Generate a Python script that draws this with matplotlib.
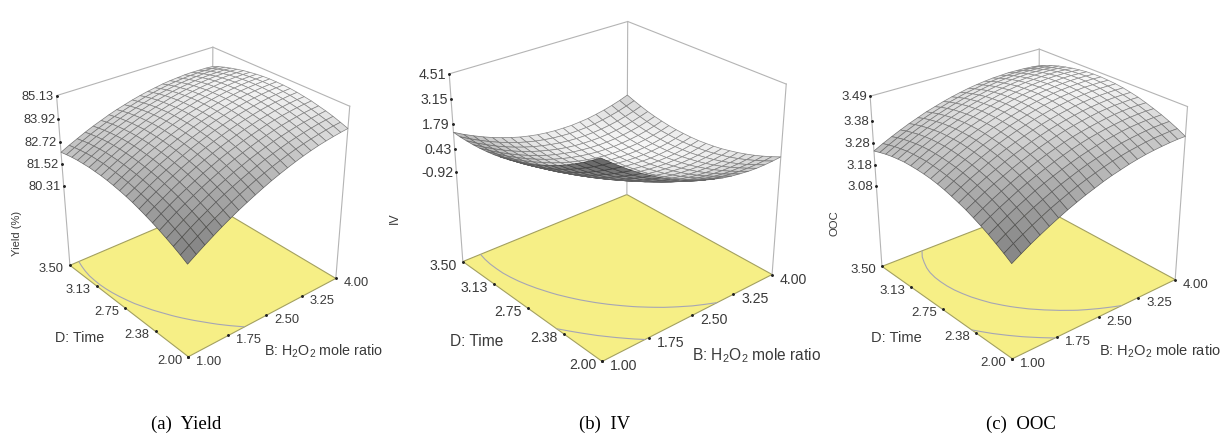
#!/usr/bin/env python3
"""Three response surfaces over a yellow contour floor."""

import numpy as np
import matplotlib
matplotlib.use("Agg")
import matplotlib.pyplot as plt
from mpl_toolkits.mplot3d import proj3d

W, H = 1225, 447

B_ticks = [1.00, 1.75, 2.50, 3.25, 4.00]
B_labels = ["1.00", "1.75", "2.50", "3.25", "4.00"]
D_ticks = [2.00, 2.375, 2.75, 3.125, 3.50]
D_labels = ["2.00", "2.38", "2.75", "3.13", "3.50"]

# rows run along D (2.00 to 3.50), columns along B (1.00 to 4.00)
yield_z = [
    [80.60, 80.89, 81.17, 81.44, 81.70, 81.94, 82.17, 82.38, 82.58, 82.77, 82.95, 83.11, 83.26, 83.40, 83.53, 83.64, 83.74, 83.82, 83.89, 83.95, 84.00],
    [80.82, 81.11, 81.38, 81.65, 81.90, 82.13, 82.36, 82.57, 82.77, 82.96, 83.13, 83.29, 83.43, 83.57, 83.69, 83.80, 83.89, 83.97, 84.04, 84.10, 84.14],
    [81.02, 81.30, 81.58, 81.84, 82.08, 82.32, 82.54, 82.75, 82.94, 83.12, 83.29, 83.45, 83.59, 83.72, 83.84, 83.94, 84.03, 84.11, 84.18, 84.23, 84.27],
    [81.20, 81.48, 81.75, 82.01, 82.25, 82.48, 82.70, 82.90, 83.10, 83.27, 83.44, 83.59, 83.73, 83.86, 83.97, 84.07, 84.16, 84.23, 84.29, 84.34, 84.38],
    [81.37, 81.65, 81.92, 82.17, 82.41, 82.64, 82.85, 83.05, 83.24, 83.41, 83.57, 83.72, 83.86, 83.98, 84.09, 84.19, 84.27, 84.34, 84.40, 84.44, 84.47],
    [81.53, 81.81, 82.07, 82.32, 82.55, 82.77, 82.99, 83.18, 83.37, 83.54, 83.69, 83.84, 83.97, 84.09, 84.20, 84.29, 84.37, 84.43, 84.49, 84.53, 84.56],
    [81.67, 81.95, 82.20, 82.45, 82.68, 82.90, 83.11, 83.30, 83.48, 83.65, 83.80, 83.94, 84.07, 84.18, 84.29, 84.37, 84.45, 84.51, 84.56, 84.60, 84.62],
    [81.80, 82.07, 82.32, 82.56, 82.79, 83.01, 83.21, 83.40, 83.58, 83.74, 83.89, 84.03, 84.15, 84.26, 84.36, 84.45, 84.52, 84.58, 84.62, 84.66, 84.68],
    [81.92, 82.18, 82.43, 82.67, 82.89, 83.10, 83.30, 83.49, 83.66, 83.82, 83.97, 84.10, 84.22, 84.33, 84.42, 84.50, 84.57, 84.63, 84.67, 84.70, 84.72],
    [82.02, 82.27, 82.52, 82.76, 82.98, 83.18, 83.38, 83.56, 83.73, 83.88, 84.03, 84.16, 84.27, 84.38, 84.47, 84.55, 84.61, 84.66, 84.70, 84.73, 84.74],
    [82.10, 82.36, 82.60, 82.83, 83.05, 83.25, 83.44, 83.62, 83.78, 83.94, 84.08, 84.20, 84.31, 84.41, 84.50, 84.58, 84.64, 84.68, 84.72, 84.74, 84.75],
    [82.17, 82.42, 82.66, 82.89, 83.10, 83.30, 83.49, 83.66, 83.82, 83.97, 84.11, 84.23, 84.34, 84.44, 84.52, 84.59, 84.65, 84.69, 84.72, 84.74, 84.75],
    [82.23, 82.47, 82.71, 82.93, 83.14, 83.34, 83.52, 83.69, 83.85, 83.99, 84.13, 84.24, 84.35, 84.44, 84.52, 84.59, 84.64, 84.68, 84.71, 84.72, 84.73],
    [82.27, 82.51, 82.74, 82.96, 83.17, 83.36, 83.54, 83.71, 83.86, 84.00, 84.13, 84.24, 84.35, 84.43, 84.51, 84.57, 84.62, 84.66, 84.68, 84.69, 84.69],
    [82.29, 82.54, 82.76, 82.98, 83.18, 83.37, 83.55, 83.71, 83.86, 84.00, 84.12, 84.23, 84.33, 84.41, 84.49, 84.54, 84.59, 84.62, 84.64, 84.65, 84.64],
    [82.31, 82.54, 82.77, 82.98, 83.18, 83.36, 83.53, 83.69, 83.84, 83.97, 84.09, 84.20, 84.30, 84.38, 84.44, 84.50, 84.54, 84.57, 84.59, 84.59, 84.58],
    [82.30, 82.54, 82.76, 82.97, 83.16, 83.34, 83.51, 83.67, 83.81, 83.94, 84.05, 84.16, 84.25, 84.33, 84.39, 84.44, 84.48, 84.51, 84.52, 84.52, 84.50],
    [82.29, 82.52, 82.73, 82.94, 83.13, 83.31, 83.47, 83.62, 83.76, 83.89, 84.00, 84.10, 84.19, 84.26, 84.32, 84.37, 84.40, 84.42, 84.43, 84.43, 84.41],
    [82.26, 82.48, 82.70, 82.90, 83.08, 83.26, 83.42, 83.57, 83.70, 83.82, 83.93, 84.03, 84.11, 84.18, 84.24, 84.28, 84.31, 84.33, 84.34, 84.33, 84.31],
    [82.21, 82.43, 82.64, 82.84, 83.02, 83.19, 83.35, 83.49, 83.62, 83.74, 83.85, 83.94, 84.02, 84.09, 84.14, 84.18, 84.21, 84.22, 84.22, 84.21, 84.19],
    [82.15, 82.37, 82.57, 82.77, 82.95, 83.11, 83.27, 83.41, 83.53, 83.65, 83.75, 83.84, 83.91, 83.98, 84.03, 84.06, 84.09, 84.10, 84.09, 84.08, 84.05],
]
iv_z = [
    [4.30, 3.89, 3.50, 3.13, 2.79, 2.48, 2.18, 1.91, 1.67, 1.45, 1.25, 1.08, 0.93, 0.80, 0.70, 0.63, 0.57, 0.54, 0.54, 0.56, 0.60],
    [3.97, 3.56, 3.18, 2.82, 2.48, 2.17, 1.89, 1.62, 1.39, 1.17, 0.98, 0.81, 0.67, 0.55, 0.46, 0.39, 0.34, 0.32, 0.32, 0.34, 0.39],
    [3.65, 3.25, 2.88, 2.52, 2.20, 1.89, 1.61, 1.35, 1.12, 0.91, 0.73, 0.57, 0.43, 0.32, 0.23, 0.16, 0.12, 0.11, 0.11, 0.15, 0.20],
    [3.36, 2.97, 2.59, 2.25, 1.93, 1.63, 1.35, 1.10, 0.88, 0.67, 0.50, 0.34, 0.21, 0.10, 0.02, -0.04, -0.07, -0.08, -0.07, -0.03, 0.03],
    [3.08, 2.70, 2.33, 1.99, 1.68, 1.38, 1.12, 0.87, 0.65, 0.45, 0.28, 0.13, 0.01, -0.09, -0.17, -0.22, -0.25, -0.25, -0.23, -0.19, -0.12],
    [2.83, 2.45, 2.09, 1.76, 1.45, 1.16, 0.90, 0.66, 0.45, 0.26, 0.09, -0.05, -0.17, -0.27, -0.34, -0.38, -0.40, -0.40, -0.38, -0.33, -0.25],
    [2.59, 2.22, 1.87, 1.54, 1.23, 0.95, 0.70, 0.47, 0.26, 0.08, -0.09, -0.22, -0.33, -0.42, -0.48, -0.52, -0.54, -0.53, -0.50, -0.44, -0.36],
    [2.38, 2.01, 1.66, 1.34, 1.04, 0.77, 0.52, 0.29, 0.09, -0.09, -0.24, -0.37, -0.47, -0.56, -0.61, -0.65, -0.66, -0.64, -0.60, -0.54, -0.46],
    [2.18, 1.82, 1.48, 1.16, 0.87, 0.60, 0.36, 0.14, -0.06, -0.23, -0.37, -0.50, -0.60, -0.67, -0.72, -0.75, -0.75, -0.73, -0.69, -0.62, -0.53],
    [2.00, 1.65, 1.31, 1.00, 0.72, 0.46, 0.22, 0.01, -0.18, -0.35, -0.49, -0.61, -0.70, -0.77, -0.81, -0.84, -0.83, -0.81, -0.76, -0.68, -0.58],
    [1.85, 1.49, 1.17, 0.86, 0.59, 0.33, 0.10, -0.11, -0.29, -0.45, -0.59, -0.70, -0.78, -0.85, -0.89, -0.90, -0.89, -0.86, -0.80, -0.72, -0.62],
    [1.71, 1.36, 1.04, 0.75, 0.47, 0.22, 0.00, -0.20, -0.38, -0.53, -0.66, -0.77, -0.85, -0.90, -0.94, -0.95, -0.93, -0.89, -0.83, -0.74, -0.63],
    [1.59, 1.25, 0.94, 0.64, 0.38, 0.14, -0.08, -0.28, -0.45, -0.60, -0.72, -0.82, -0.89, -0.94, -0.97, -0.97, -0.95, -0.90, -0.84, -0.74, -0.62],
    [1.49, 1.16, 0.85, 0.56, 0.30, 0.07, -0.15, -0.33, -0.50, -0.64, -0.76, -0.85, -0.92, -0.96, -0.98, -0.98, -0.95, -0.90, -0.82, -0.72, -0.60],
    [1.41, 1.08, 0.78, 0.50, 0.25, 0.02, -0.19, -0.37, -0.53, -0.66, -0.77, -0.86, -0.92, -0.96, -0.97, -0.96, -0.93, -0.87, -0.79, -0.69, -0.56],
    [1.35, 1.03, 0.73, 0.46, 0.21, -0.01, -0.21, -0.39, -0.54, -0.67, -0.77, -0.85, -0.91, -0.94, -0.95, -0.93, -0.89, -0.83, -0.74, -0.63, -0.49],
    [1.31, 0.99, 0.70, 0.44, 0.20, -0.02, -0.22, -0.39, -0.53, -0.65, -0.75, -0.82, -0.87, -0.90, -0.90, -0.88, -0.83, -0.76, -0.67, -0.55, -0.41],
    [1.29, 0.98, 0.70, 0.44, 0.20, -0.01, -0.20, -0.36, -0.50, -0.62, -0.71, -0.78, -0.82, -0.84, -0.84, -0.81, -0.76, -0.68, -0.58, -0.45, -0.31],
    [1.29, 0.98, 0.71, 0.45, 0.22, 0.02, -0.16, -0.32, -0.45, -0.56, -0.65, -0.71, -0.75, -0.76, -0.75, -0.72, -0.66, -0.58, -0.47, -0.34, -0.18],
    [1.30, 1.01, 0.74, 0.49, 0.27, 0.07, -0.11, -0.26, -0.39, -0.49, -0.57, -0.62, -0.66, -0.66, -0.65, -0.61, -0.54, -0.45, -0.34, -0.20, -0.04],
    [1.34, 1.05, 0.79, 0.55, 0.33, 0.14, -0.03, -0.18, -0.30, -0.40, -0.47, -0.52, -0.54, -0.55, -0.52, -0.48, -0.40, -0.31, -0.19, -0.05, 0.12],
]
ooc_z = [
    [3.107, 3.132, 3.156, 3.178, 3.199, 3.219, 3.238, 3.255, 3.271, 3.285, 3.299, 3.311, 3.321, 3.331, 3.339, 3.346, 3.351, 3.355, 3.358, 3.360, 3.360],
    [3.130, 3.155, 3.178, 3.200, 3.221, 3.241, 3.259, 3.276, 3.292, 3.306, 3.319, 3.331, 3.342, 3.351, 3.359, 3.365, 3.371, 3.375, 3.377, 3.379, 3.379],
    [3.151, 3.176, 3.199, 3.221, 3.242, 3.261, 3.279, 3.296, 3.311, 3.326, 3.339, 3.350, 3.360, 3.369, 3.377, 3.383, 3.388, 3.392, 3.395, 3.396, 3.396],
    [3.171, 3.195, 3.218, 3.240, 3.260, 3.280, 3.298, 3.314, 3.329, 3.343, 3.356, 3.367, 3.377, 3.386, 3.393, 3.400, 3.405, 3.408, 3.410, 3.411, 3.411],
    [3.189, 3.213, 3.236, 3.257, 3.278, 3.297, 3.314, 3.330, 3.345, 3.359, 3.372, 3.383, 3.393, 3.401, 3.408, 3.414, 3.419, 3.422, 3.424, 3.425, 3.424],
    [3.205, 3.229, 3.252, 3.273, 3.293, 3.312, 3.329, 3.345, 3.360, 3.373, 3.386, 3.397, 3.406, 3.414, 3.421, 3.427, 3.432, 3.435, 3.437, 3.437, 3.436],
    [3.220, 3.243, 3.266, 3.287, 3.306, 3.325, 3.342, 3.358, 3.373, 3.386, 3.398, 3.409, 3.418, 3.426, 3.433, 3.439, 3.443, 3.446, 3.447, 3.448, 3.447],
    [3.232, 3.256, 3.278, 3.299, 3.318, 3.337, 3.354, 3.369, 3.384, 3.397, 3.409, 3.419, 3.428, 3.436, 3.443, 3.448, 3.452, 3.455, 3.456, 3.456, 3.455],
    [3.243, 3.267, 3.289, 3.309, 3.329, 3.347, 3.364, 3.379, 3.393, 3.406, 3.418, 3.428, 3.437, 3.444, 3.451, 3.456, 3.460, 3.462, 3.463, 3.463, 3.462],
    [3.253, 3.276, 3.298, 3.318, 3.337, 3.355, 3.372, 3.387, 3.401, 3.413, 3.425, 3.435, 3.444, 3.451, 3.457, 3.462, 3.465, 3.468, 3.469, 3.468, 3.467],
    [3.261, 3.283, 3.305, 3.325, 3.344, 3.362, 3.378, 3.393, 3.407, 3.419, 3.430, 3.440, 3.449, 3.456, 3.462, 3.466, 3.470, 3.472, 3.472, 3.472, 3.470],
    [3.267, 3.289, 3.310, 3.330, 3.349, 3.367, 3.383, 3.398, 3.411, 3.423, 3.434, 3.444, 3.452, 3.459, 3.465, 3.469, 3.472, 3.474, 3.475, 3.474, 3.472],
    [3.271, 3.293, 3.314, 3.334, 3.353, 3.370, 3.386, 3.400, 3.414, 3.426, 3.436, 3.446, 3.454, 3.461, 3.466, 3.470, 3.473, 3.475, 3.475, 3.474, 3.472],
    [3.273, 3.296, 3.316, 3.336, 3.354, 3.371, 3.387, 3.401, 3.414, 3.426, 3.437, 3.446, 3.454, 3.460, 3.466, 3.470, 3.472, 3.474, 3.474, 3.472, 3.470],
    [3.274, 3.296, 3.317, 3.336, 3.354, 3.371, 3.387, 3.401, 3.414, 3.425, 3.435, 3.444, 3.452, 3.458, 3.463, 3.467, 3.470, 3.471, 3.471, 3.469, 3.466],
    [3.274, 3.295, 3.316, 3.335, 3.353, 3.369, 3.384, 3.398, 3.411, 3.422, 3.432, 3.441, 3.449, 3.455, 3.460, 3.463, 3.465, 3.466, 3.466, 3.464, 3.461],
    [3.271, 3.293, 3.313, 3.332, 3.349, 3.366, 3.381, 3.394, 3.407, 3.418, 3.428, 3.436, 3.443, 3.449, 3.454, 3.457, 3.459, 3.460, 3.460, 3.458, 3.454],
    [3.267, 3.288, 3.308, 3.327, 3.344, 3.360, 3.375, 3.389, 3.401, 3.412, 3.421, 3.430, 3.437, 3.442, 3.447, 3.450, 3.452, 3.452, 3.451, 3.449, 3.446],
    [3.261, 3.282, 3.302, 3.320, 3.337, 3.353, 3.368, 3.381, 3.393, 3.404, 3.413, 3.421, 3.428, 3.434, 3.438, 3.441, 3.442, 3.443, 3.441, 3.439, 3.436],
    [3.253, 3.274, 3.294, 3.312, 3.329, 3.345, 3.359, 3.372, 3.384, 3.394, 3.404, 3.411, 3.418, 3.423, 3.427, 3.430, 3.431, 3.431, 3.430, 3.428, 3.424],
    [3.244, 3.265, 3.284, 3.302, 3.319, 3.334, 3.349, 3.361, 3.373, 3.383, 3.392, 3.400, 3.406, 3.411, 3.415, 3.417, 3.419, 3.418, 3.417, 3.414, 3.410],
]

yield_ticks = [80.31, 81.52, 82.72, 83.92, 85.13]
iv_ticks = [-0.92, 0.43, 1.79, 3.15, 4.51]
ooc_ticks = [3.08, 3.18, 3.28, 3.38, 3.49]

panels = [
    dict(z=yield_z, ticks=yield_ticks, floor=75.6, levels=[82.4], ylab="Yield (%)",
         cx=201.5, cy=190.5, f=0.398, elev=29.5, azim=-130, aspect=0.99, fs=9.3,
         ylab_xy=(17, 233), time_xy=(80, 338), b_xy=(323, 351), cap="(a)  Yield", cap_x=186),
    dict(z=iv_z, ticks=iv_ticks, floor=-6.29, levels=[0.8, 2.6], ylab="IV",
         cx=616, cy=177.5, f=0.46, elev=27.5, azim=-130.5, aspect=0.93, fs=10.2,
         ylab_xy=(395, 218), time_xy=(477, 342), b_xy=(757, 356), cap="(b)  IV", cap_x=605),
    dict(z=ooc_z, ticks=ooc_ticks, floor=2.684, levels=[3.215, 3.33], ylab="OOC",
         cx=1027, cy=190.5, f=0.435, elev=26.5, azim=-130, aspect=0.885, fs=9.5,
         ylab_xy=(835, 223), time_xy=(896, 338), b_xy=(1160, 351), cap="(c)  OOC", cap_x=1021),
]

plt.rcParams["font.family"] = ["Liberation Sans", "DejaVu Sans"]
plt.rcParams["mathtext.default"] = "regular"

TEXT = "#3a3a3a"
BOX = "#b4b4b4"
YELLOW = "#f6ef86"
S = 460


def fig_xy(x, y):
    return x / W, 1 - y / H


def draw_panel(fig, p):
    left = (p["cx"] - S * 0.095 / 0.185) / W
    bottom = (H - p["cy"] - S * 0.095 / 0.185) / H
    ax = fig.add_axes([left, bottom, S / W, S / H], projection="3d", computed_zorder=False)
    ax.patch.set_visible(False)
    ax.set_proj_type("persp", focal_length=p["f"])
    ax.view_init(elev=p["elev"], azim=p["azim"])
    zoom = 2 * p["f"] * np.sqrt(2 + p["aspect"] ** 2) / 1.9057
    ax.set_box_aspect((1, 1, p["aspect"]), zoom=zoom)
    ax.set_axis_off()

    Z = np.array(p["z"])
    b = np.linspace(B_ticks[0], B_ticks[-1], Z.shape[1])
    d = np.linspace(D_ticks[0], D_ticks[-1], Z.shape[0])
    X, Y = np.meshgrid(b, d)
    zf, ztop = p["floor"], p["ticks"][-1]
    b0, b1, d0, d1 = b[0], b[-1], d[0], d[-1]

    # floor plane
    ax.plot_surface(np.array([[b0, b1], [b0, b1]]), np.array([[d0, d0], [d1, d1]]),
                    np.full((2, 2), zf), color=YELLOW, shade=False, linewidth=0, zorder=1)
    ax.plot([b0, b1, b1, b0, b0], [d0, d0, d1, d1, d0], [zf] * 5, color="#a3a060", lw=0.8, zorder=2)
    cs = ax.contour(X, Y, Z, levels=p["levels"], zdir="z", offset=zf, colors="#a5a5b5", linewidths=0.8)
    cs.set_zorder(2)

    # box edges behind the surface
    ax.plot([b0, b1, b1], [d1, d1, d0], [ztop] * 3, color=BOX, lw=0.8, zorder=2)
    for bx, dy in [(b0, d1), (b1, d1), (b1, d0)]:
        ax.plot([bx, bx], [dy, dy], [zf, ztop], color=BOX, lw=0.8, zorder=2)

    # gray level follows the slope of the surface
    gz_d, gz_b = np.gradient(Z, d, b)
    range_z = ztop - zf
    sx = gz_b * (b1 - b0) / range_z * p["aspect"]
    sy = gz_d * (d1 - d0) / range_z * p["aspect"]
    nz = 1 / np.sqrt(1 + sx ** 2 + sy ** 2)
    gray = np.clip(0.97 - 2.2 * (1 - nz), 0.42, 0.97)
    colors = np.dstack([gray, gray, gray, np.ones_like(gray)])
    surf = ax.plot_surface(X, Y, Z, facecolors=colors, rstride=1, cstride=1, shade=False,
                           linewidth=0.5, zorder=3)
    # grid lines stay a step darker than the face they border
    edge = gray[:-1, :-1].ravel() * 0.58
    surf.set_edgecolor(np.column_stack([edge, edge, edge, np.ones_like(edge)]))

    ax.set_xlim(b0, b1, view_margin=0)
    ax.set_ylim(d0, d1, view_margin=0)
    ax.set_zlim(zf, ztop, view_margin=0)

    # ticks
    ax.plot(B_ticks, [d0] * 5, [zf] * 5, ls="", marker="o", ms=1.1, color="#222222", zorder=4)
    ax.plot([b0] * 5, D_ticks, [zf] * 5, ls="", marker="o", ms=1.1, color="#222222", zorder=4)
    ax.plot([b0] * 5, [d1] * 5, p["ticks"], ls="", marker="o", ms=1.1, color="#222222", zorder=4)

    M = ax.get_proj()
    fs = p["fs"]

    def label(x, y, z, s, dx, dy, ha):
        xp, yp, _ = proj3d.proj_transform(x, y, z, M)
        ax.annotate(s, (xp, yp), xytext=(dx, dy), textcoords="offset pixels", ha=ha, va="center",
                    fontsize=fs, color=TEXT, annotation_clip=False)

    for v, s in zip(B_ticks, B_labels):
        label(v, d0, zf, s, 8, -5, "left")
    for v, s in zip(D_ticks, D_labels):
        label(b0, v, zf, s, -6, -4, "right")
    for v in p["ticks"]:
        label(b0, d1, v, f"{v:.2f}", -3, -1, "right")

    for art in ax.get_children():
        art.set_clip_on(False)

    x, y = fig_xy(*p["ylab_xy"])
    fig.text(x, y, p["ylab"], rotation=90, ha="center", va="center", fontsize=fs - 1.3, color=TEXT)
    x, y = fig_xy(*p["time_xy"])
    fig.text(x, y, "D: Time", ha="center", va="center", fontsize=fs + 1, color=TEXT)
    x, y = fig_xy(*p["b_xy"])
    fig.text(x, y, "B: H$_2$O$_2$ mole ratio", ha="center", va="center", fontsize=fs + 1, color=TEXT)
    x, y = fig_xy(p["cap_x"], 424)
    fig.text(x, y, p["cap"], ha="center", va="center", fontsize=13.5, color="black",
             family=["Liberation Serif", "DejaVu Serif"])


def main():
    fig = plt.figure(figsize=(W / 100, H / 100), dpi=100)
    for p in panels:
        draw_panel(fig, p)
    fig.savefig("out.png", dpi=100)


if __name__ == "__main__":
    main()
